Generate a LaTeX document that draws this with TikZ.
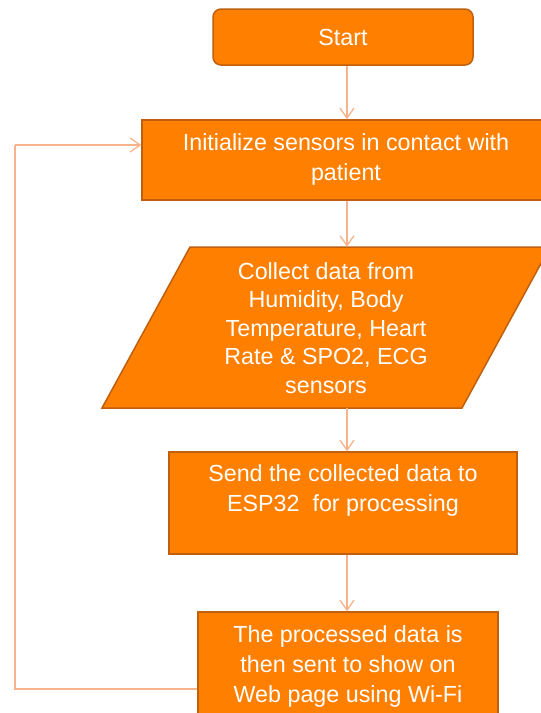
\documentclass[tikz,border=0pt]{standalone}
\usepackage{fontspec}
\setmainfont{Liberation Sans}
\usetikzlibrary{arrows.meta,calc}
\definecolor{boxfill}{HTML}{FF7F00}
\definecolor{boxline}{HTML}{C0600F}
\definecolor{connline}{HTML}{F7B48C}
\begin{document}
\begin{tikzpicture}[x=1pt,y=1pt,
  box/.style={draw=boxline, fill=boxfill, line width=1.5pt, inner sep=0pt, text=white,
    font=\fontsize{23.3}{29}\selectfont, align=center},
  txt/.style={inner sep=0pt, text=white, font=\fontsize{23.3}{28.5}\selectfont, align=center},
  wtxt/.style={inner sep=0pt, text=white, font=\fontsize{23.3}{30}\selectfont, align=center},
  conn/.style={draw=connline, line width=1.3pt, -{Straight Barb[length=10pt,width=14pt]}},
  loopline/.style={draw=connline, line width=1.3pt}]
\useasboundingbox (0,0) rectangle (541,-713);
\clip (0,0) rectangle (541,-713);
\fill[white] (0,0) rectangle (541,-713);
% nodes
\node[box, rounded corners=8pt, minimum width=260pt, minimum height=56pt] (start) at (343,-37) {Start};
\node[box, minimum width=408pt, minimum height=80pt] (init) at (346,-160) {};
\node[wtxt] (inittext) at (346,-159) {Initialize sensors in contact with\\patient};
\path[draw=boxline, fill=boxfill, line width=1.5pt] (102,-408) -- (462,-408) -- (550,-247) -- (190,-247) -- cycle;
\node[inner sep=0pt, minimum width=270pt, minimum height=161pt] (collect) at (326,-327.5) {};
\node[txt] (collecttext) at (326,-328) {Collect data from\\Humidity, Body\\Temperature, Heart\\Rate \& SPO2, ECG\\sensors};
\node[box, minimum width=348pt, minimum height=102pt] (send) at (343,-503) {};
\node[wtxt] (sendtext) at (343,-490) {Send the collected data to\\ESP32\ \ for processing};
\node[box, minimum width=300pt, minimum height=154pt] (final) at (348,-689) {};
\node[wtxt] (finaltext) at (348,-666) {The processed data is\\then sent to show on\\Web page using Wi-Fi};
% helper coordinates
\coordinate (axis) at (347,0);
\coordinate (loopx) at (15,0);
\coordinate (loopin) at ($(init.west)+(0,15)$);
% connectors
\draw[conn] (axis |- start.south) -- (axis |- init.north);
\draw[conn] (axis |- init.south) -- (axis |- collect.north);
\draw[conn] (axis |- collect.south) -- (axis |- send.north);
\draw[conn] (axis |- send.south) -- (axis |- final.north);
\draw[loopline] (final.west) -- (loopx |- final.west) -- (loopx |- loopin);
\draw[conn] (loopx |- loopin) -- (loopin);
\end{tikzpicture}
\end{document}
